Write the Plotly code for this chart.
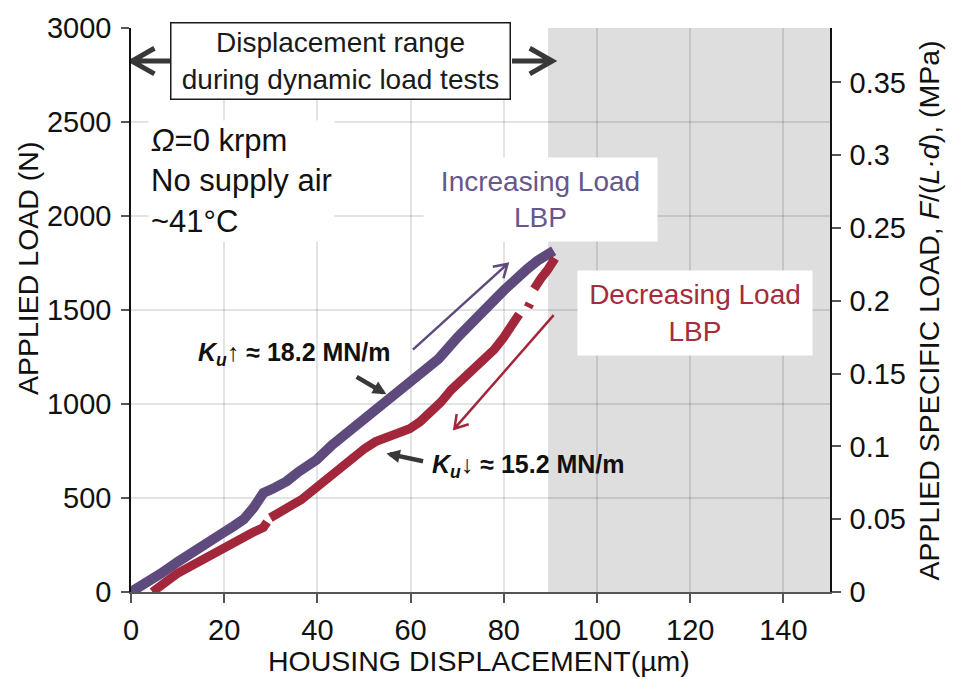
import math
import plotly.graph_objects as go

# ---- measured load-deflection data (housing displacement in um, applied load in N) ----
inc_disp = [0.0, 0.7, 3.0, 6.4, 10.0, 13.5, 17.0, 19.9, 22.0, 24.2, 26.3, 28.4, 30.5, 33.4,
            36.0, 39.8, 43.1, 46.5, 50.2, 55.2, 59.8, 64.4, 66.0, 70.1, 72.9, 76.5, 80.0,
            82.0, 84.3, 85.0, 87.2, 89.0, 90.7]
inc_load = [0, 10, 45, 98, 160, 221, 275, 317, 350, 387, 448, 527, 550, 589,
            640, 703, 781, 850, 921, 1026, 1114, 1202, 1240, 1355, 1429, 1505, 1604,
            1650, 1692, 1718, 1762, 1790, 1815]

# decreasing branch runs from the peak back to zero; None marks gaps in the record
dec_disp = [91.0, 90.7, 89.3, 88.0, 87.2, 86.5, None, 85.6, 85.2, None, 83.3, 82.2, 80.0,
            77.9, 75.5, 72.9, 70.5, 68.7, 66.5, 64.4, 62.0, 59.8, 57.5, 55.2, 52.5, 50.2,
            46.5, 43.1, 40.0, 38.8, 36.5, 34.8, 32.0, 29.9, None, 29.2, 28.4, 26.0, 24.2,
            22.0, 19.9, 17.5, 15.6, 12.5, 9.9, 7.0, 4.6]
dec_load = [1775, 1762, 1709, 1670, 1640, 1612, None, 1535, 1515, None, 1478, 1429, 1355,
            1289, 1235, 1184, 1125, 1075, 1010, 956, 905, 869, 850, 834, 800, 764,
            690, 624, 560, 527, 490, 466, 430, 395, None, 372, 343, 315, 291,
            265, 238, 210, 186, 140, 98, 45, 0]

x_ticks = [0, 20, 40, 60, 80, 100, 120, 140]
y_ticks = [0, 500, 1000, 1500, 2000, 2500, 3000]
spec_ticks = [0, 0.05, 0.1, 0.15, 0.2, 0.25, 0.3, 0.35]

X_MAX = 150
Y_MAX = 3000
DYNAMIC_RANGE_MAX = 89.5          # um, displacement reached in dynamic load tests
BEARING_AREA_MM2 = 7744.0         # L * d
SPEC_MAX = Y_MAX / BEARING_AREA_MM2  # MPa at top of load axis

KU_UP = 18.2
KU_DOWN = 15.2

PURPLE = "#5e4a7c"
PURPLE_TXT = "#67578a"
RED = "#a3273b"
RED_TXT = "#a52b3d"
DARK = "#383838"
INK = "#111111"
FONT = "Liberation Sans, Arial, sans-serif"

W, H = 956, 679
PL, PR, PT, PB = 131, 830, 21, 592
SX = (PR - PL) / X_MAX     # px per um
SY = (PB - PT) / Y_MAX     # px per N


def px_to_paper(px, py):
    return (px - PL) / (PR - PL), (PB - py) / (PB - PT)


def chevron_arrow(x0, y0, x1, y1, barb_px, angle_deg):
    """Line from (x0,y0) to (x1,y1) with an open chevron head at the end, in data units."""
    dx, dy = (x1 - x0) * SX, (y1 - y0) * SY
    n = math.hypot(dx, dy)
    ux, uy = dx / n, dy / n
    pts = []
    for s in (1, -1):
        a = math.radians(angle_deg) * s
        rx = ux * math.cos(a) - uy * math.sin(a)
        ry = ux * math.sin(a) + uy * math.cos(a)
        pts.append((x1 - rx * barb_px / SX, y1 - ry * barb_px / SY))
    (bx1, by1), (bx2, by2) = pts
    return f"M{x0},{y0} L{x1},{y1} M{bx1},{by1} L{x1},{y1} L{bx2},{by2}"


fig = go.Figure()

fig.add_trace(go.Scatter(
    x=inc_disp, y=inc_load, mode="lines",
    line=dict(color=PURPLE, width=10), connectgaps=False,
    name="Increasing Load", showlegend=False, cliponaxis=False))
fig.add_trace(go.Scatter(
    x=dec_disp, y=dec_load, mode="lines",
    line=dict(color=RED, width=9), connectgaps=False,
    name="Decreasing Load", showlegend=False, cliponaxis=False))
# empty trace so the specific-load axis on the right is created
fig.add_trace(go.Scatter(x=[], y=[], yaxis="y2", showlegend=False, hoverinfo="skip"))

range_y = 2824
shapes = [
    # region beyond the displacement covered by the dynamic load tests
    dict(type="rect", xref="x", yref="y", x0=DYNAMIC_RANGE_MAX, x1=X_MAX, y0=0, y1=Y_MAX,
         fillcolor="#dedede", line=dict(width=0), layer="below"),
    # double arrow marking the dynamic-test displacement range
    dict(type="path", xref="x", yref="y",
         path=chevron_arrow((172 - PL) / SX, range_y, 0.2, range_y, 26, 30),
         line=dict(color=DARK, width=5)),
    dict(type="path", xref="x", yref="y",
         path=chevron_arrow((512 - PL) / SX, range_y, 90.4, range_y, 26, 30),
         line=dict(color=DARK, width=5)),
    # loading / unloading direction arrows
    dict(type="path", xref="x", yref="y",
         path=chevron_arrow(60.5, 1289, 80.8, 1745, 15, 32),
         line=dict(color=PURPLE, width=2.5)),
    dict(type="path", xref="x", yref="y",
         path=chevron_arrow(90.7, 1473, 69.4, 869, 15, 32),
         line=dict(color=RED, width=2.5)),
]

ann = []
# range box
ann.append(dict(x=44.9, y=range_y, xref="x", yref="y", showarrow=False,
                text="Displacement range<br>during dynamic load tests",
                font=dict(family=FONT, size=28, color="#1a1a1a"),
                bgcolor="white", bordercolor="#1a1a1a", borderwidth=1.5, borderpad=2,
                width=334, height=71, align="center"))
# operating condition text
ann.append(dict(x=3.7, y=2186, xref="x", yref="y", showarrow=False, xanchor="left",
                yanchor="middle", align="left",
                text="<i>Ω</i>=0 krpm<br>No supply air<br>~41°C",
                font=dict(family=FONT, size=31, color=INK),
                bgcolor="white", borderpad=2))
# branch labels
ann.append(dict(x=87.9, y=2089, xref="x", yref="y", showarrow=False,
                text="Increasing Load<br>LBP", font=dict(family=FONT, size=28, color=PURPLE_TXT),
                bgcolor="white", width=225, height=75, borderpad=4))
ann.append(dict(x=121.1, y=1482, xref="x", yref="y", showarrow=False,
                text="Decreasing Load<br>LBP", font=dict(family=FONT, size=28, color=RED_TXT),
                bgcolor="white", width=226, height=76, borderpad=4))
# stiffness labels
ann.append(dict(x=35.1, y=1267, xref="x", yref="y", showarrow=False,
                text=f"<b><i>K</i><sub><i>u</i></sub>↑ ≈ {KU_UP} MN/m</b>",
                font=dict(family=FONT, size=25, color=INK)))
ann.append(dict(x=85.4, y=668, xref="x", yref="y", showarrow=False,
                text=f"<b><i>K</i><sub><i>u</i></sub>↓ ≈ {KU_DOWN} MN/m</b>",
                font=dict(family=FONT, size=25, color=INK)))
# stiffness pointer arrows
ann.append(dict(x=54.8, y=1052, ax=48.1, ay=1149, xref="x", yref="y", axref="x", ayref="y",
                text="", showarrow=True, arrowhead=2, arrowsize=0.6, arrowwidth=4.5,
                arrowcolor=DARK))
ann.append(dict(x=54.8, y=737, ax=63.0, ay=694, xref="x", yref="y", axref="x", ayref="y",
                text="", showarrow=True, arrowhead=2, arrowsize=0.6, arrowwidth=4.5,
                arrowcolor=DARK))
# axis titles
tx, ty = px_to_paper(479, 662)
ann.append(dict(x=tx, y=ty, xref="paper", yref="paper", showarrow=False,
                xanchor="center", yanchor="middle",
                text="HOUSING DISPLACEMENT(µm)", font=dict(family=FONT, size=28.5, color=INK)))
tx, ty = px_to_paper(28, 265)
ann.append(dict(x=tx, y=ty, xref="paper", yref="paper", showarrow=False, textangle=-90,
                xanchor="center", yanchor="middle",
                text="APPLIED LOAD (N)", font=dict(family=FONT, size=28.5, color=INK)))
tx, ty = px_to_paper(929, 307)
ann.append(dict(x=tx, y=ty, xref="paper", yref="paper", showarrow=False, textangle=-90,
                xanchor="center", yanchor="middle",
                text="APPLIED SPECIFIC LOAD, <i>F</i>/(<i>L·d</i>), (MPa)",
                font=dict(family=FONT, size=28.5, color=INK)))

grid = "rgba(0,0,0,0.11)"
tick_font = dict(family=FONT, size=29, color=INK)
fig.update_layout(
    width=W, height=H,
    margin=dict(l=PL, r=W - PR, t=PT, b=H - PB),
    paper_bgcolor="white", plot_bgcolor="white",
    font=dict(family=FONT, color=INK),
    showlegend=False,
    xaxis=dict(range=[0, X_MAX], tickvals=x_ticks, showgrid=True, gridcolor=grid, gridwidth=1.5,
               zeroline=False, showline=True, linecolor="#555555", linewidth=2,
               ticks="outside", ticklen=9, tickcolor="#555555", tickwidth=1.5,
               tickfont=tick_font, ticklabelstandoff=2),
    yaxis=dict(range=[0, Y_MAX], tickvals=y_ticks, showgrid=True, gridcolor=grid, gridwidth=1.5,
               zeroline=False, showline=True, linecolor=INK, linewidth=1.5,
               ticks="outside", ticklen=8, tickcolor="#555555", tickwidth=1.5,
               tickfont=tick_font, ticklabelstandoff=4),
    yaxis2=dict(range=[0, SPEC_MAX], tickvals=spec_ticks, overlaying="y", side="right",
                anchor="x", showgrid=False, zeroline=False, showline=True,
                linecolor=INK, linewidth=1.5, ticks="outside", ticklen=9,
                tickcolor="#555555", tickwidth=1.5,
                tickfont=tick_font, ticklabelstandoff=3),
    shapes=shapes,
    annotations=ann,
)

fig.write_html("out.html")
